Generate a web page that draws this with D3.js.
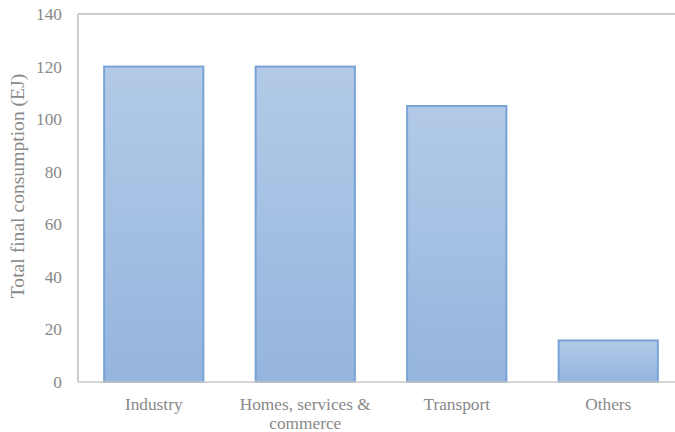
<!DOCTYPE html>
<html>
<head>
<meta charset="utf-8">
<script src="https://cdn.jsdelivr.net/npm/d3@7"></script>
<style>
  html, body { margin: 0; padding: 0; background: #fff; }
  svg { display: block; }
  text { font-family: "Liberation Serif", "Times New Roman", serif; fill: #898989; }
</style>
</head>
<body>
<svg id="chart" width="675" height="432"></svg>
<script>
// Final energy consumption by sector
const categories = ["Industry", "Homes, services &\ncommerce", "Transport", "Others"];
const consumption = [120, 120, 105, 15.8];
const yTicks = [0, 20, 40, 60, 80, 100, 120, 140];
const yTitle = "Total final consumption (EJ)";

const svg = d3.select("#chart");
const margin = { left: 78, top: 14, right: -9, bottom: 50 };
const W = 675, H = 432;
const plotW = W - margin.left - margin.right;
const plotH = H - margin.top - margin.bottom;

const x = d3.scaleBand().domain(categories).range([margin.left, margin.left + plotW])
  .paddingInner(0.345).paddingOuter(0.1725);
const y = d3.scaleLinear().domain([0, 140]).range([margin.top + plotH, margin.top]);

// Vertical gradient for the bars
const defs = svg.append("defs");
const grad = defs.append("linearGradient").attr("id", "barGrad")
  .attr("x1", 0).attr("y1", 0).attr("x2", 0).attr("y2", 1);
grad.append("stop").attr("offset", "0%").attr("stop-color", "#b2cae7");
grad.append("stop").attr("offset", "100%").attr("stop-color", "#95b5de");

// Plot frame: left and top lines
svg.append("line").attr("x1", margin.left).attr("x2", W)
  .attr("y1", y(140)).attr("y2", y(140))
  .attr("stroke", "#bdbdbd").attr("stroke-width", 1.5);
svg.append("line").attr("x1", margin.left).attr("x2", margin.left)
  .attr("y1", y(140)).attr("y2", y(0))
  .attr("stroke", "#bdbdbd").attr("stroke-width", 1.5);

// Bars
svg.append("g").selectAll("rect").data(consumption).join("rect")
  .attr("x", (d, i) => x(categories[i]))
  .attr("y", d => y(d))
  .attr("width", x.bandwidth())
  .attr("height", d => y(0) - y(d))
  .attr("fill", "url(#barGrad)")
  .attr("stroke", "#79a3d5")
  .attr("stroke-width", 2);

// Baseline
svg.append("line").attr("x1", margin.left).attr("x2", W)
  .attr("y1", y(0)).attr("y2", y(0))
  .attr("stroke", "#c8c8c8").attr("stroke-width", 1.5);

// Y axis labels
const yAxis = d3.axisLeft(y).tickValues(yTicks).tickSize(0).tickPadding(16);
const gy = svg.append("g").attr("transform", `translate(${margin.left},0)`).call(yAxis);
gy.select(".domain").remove();
gy.selectAll("text").attr("font-size", "17.3px").attr("fill", "#898989")
  .style("font-family", "'Liberation Serif', 'Times New Roman', serif");

// X axis labels (multi-line)
const gx = svg.append("g");
categories.forEach(c => {
  const lines = c.split("\n");
  const t = gx.append("text").attr("text-anchor", "middle")
    .attr("font-size", "17.3px")
    .attr("x", x(c) + x.bandwidth() / 2)
    .attr("y", y(0) + 28);
  lines.forEach((ln, k) => {
    t.append("tspan").attr("x", x(c) + x.bandwidth() / 2)
      .attr("dy", k === 0 ? 0 : 19).text(ln);
  });
});

// Y axis title
svg.append("text")
  .attr("transform", `translate(23.5,186) rotate(-90)`)
  .attr("text-anchor", "middle")
  .attr("font-size", "19.6px")
  .text(yTitle);
</script>
</body>
</html>
